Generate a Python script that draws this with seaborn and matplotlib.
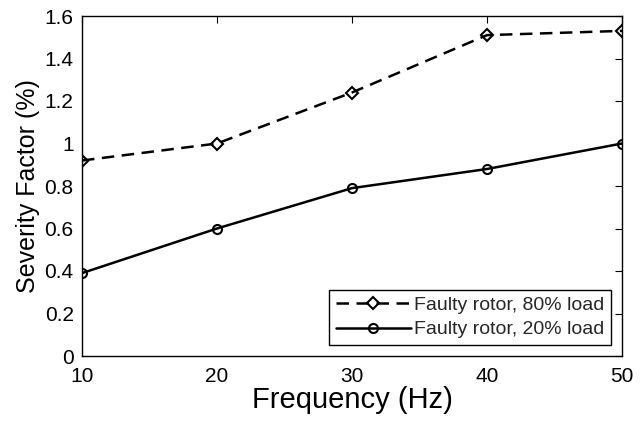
import matplotlib
matplotlib.use('Agg')
from matplotlib import pyplot as plt
import seaborn as sns
import pandas as pd

# data
freq = [10, 20, 30, 40, 50]
load_80 = [0.92, 1.00, 1.24, 1.51, 1.53]
load_20 = [0.39, 0.60, 0.79, 0.88, 1.00]
label_80 = 'Faulty rotor, 80% load'
label_20 = 'Faulty rotor, 20% load'
xticks = [10, 20, 30, 40, 50]
yticks = [0, 0.2, 0.4, 0.6, 0.8, 1, 1.2, 1.4, 1.6]

df = pd.DataFrame({'freq': freq, 'l80': load_80, 'l20': load_20})

sns.set_style('white')
plt.rcParams['font.family'] = ['Liberation Sans', 'DejaVu Sans']

fig = plt.figure(figsize=(6.41, 4.21), dpi=100)
ax = fig.add_axes([82 / 641, 1 - 356 / 421, 540 / 641, 340 / 421])

sns.lineplot(data=df, x='freq', y='l80', ax=ax, color='black', lw=1.8,
             linestyle=(0, (5, 3)), marker='D', markersize=6,
             markerfacecolor='none', markeredgecolor='black', markeredgewidth=1.5,
             label=label_80)
sns.lineplot(data=df, x='freq', y='l20', ax=ax, color='black', lw=1.8,
             marker='o', markersize=6.5,
             markerfacecolor='none', markeredgecolor='black', markeredgewidth=1.5,
             label=label_20)

ax.set_xlim(10, 50)
ax.set_ylim(0, 1.6)
ax.set_xticks(xticks)
ax.set_xticklabels([str(t) for t in xticks])
ax.set_yticks(yticks)
ax.set_yticklabels(['0', '0.2', '0.4', '0.6', '0.8', '1', '1.2', '1.4', '1.6'])
ax.tick_params(direction='in', length=5, width=0.8, top=True, right=True,
               labelsize=15, colors='black')
ax.tick_params(axis='x', pad=8)
ax.tick_params(axis='y', pad=6)
for s in ax.spines.values():
    s.set_color('black')
    s.set_linewidth(1.0)

ax.set_xlabel('Frequency (Hz)', fontsize=21, labelpad=0, color='black')
ax.set_ylabel('Severity Factor (%)', fontsize=18, labelpad=3, color='black')

leg = ax.legend(loc='lower right', fontsize=14, frameon=True, fancybox=False,
                edgecolor='black', framealpha=1, handlelength=3.9,
                borderaxespad=0.55, borderpad=0.35, labelspacing=0.35,
                handletextpad=0.15)
leg.get_frame().set_linewidth(1.0)

fig.savefig('out.png', dpi=100)
